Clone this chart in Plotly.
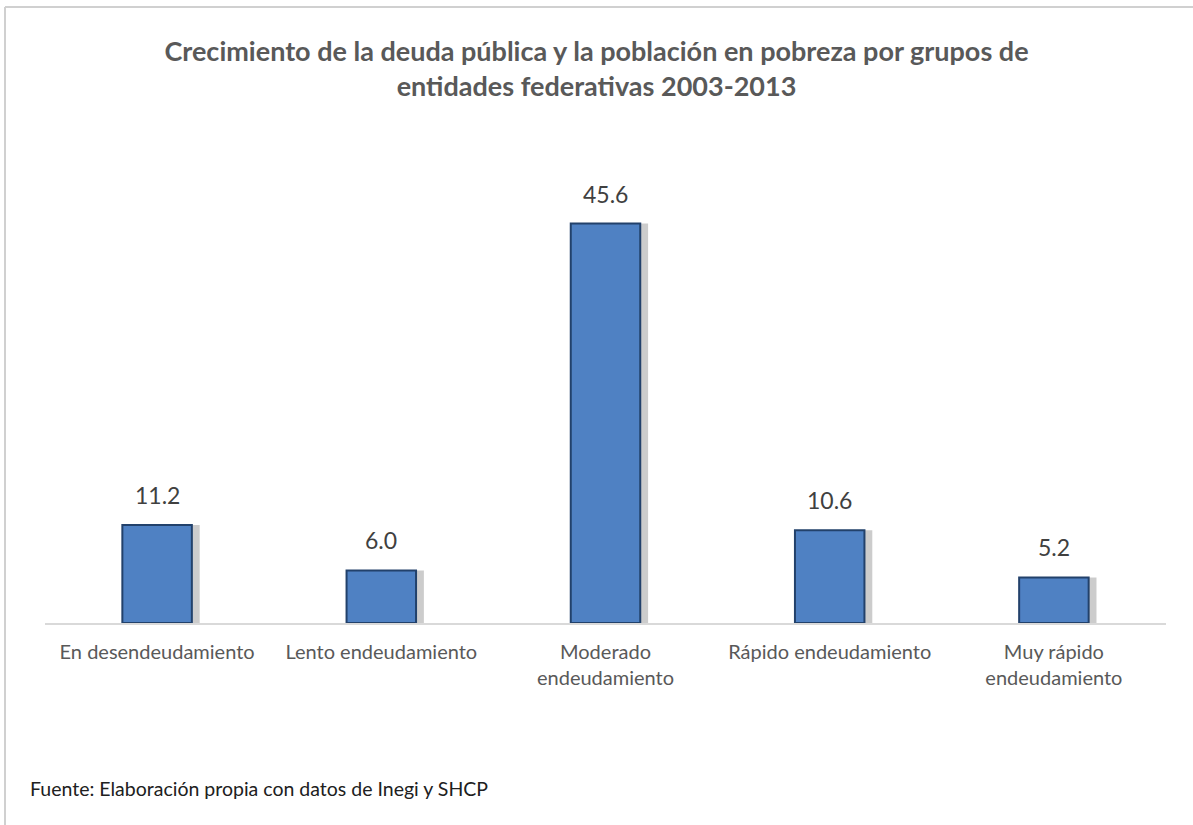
import plotly.graph_objects as go

# Datos: crecimiento por grupo de entidades 2003-2013
grupos = ["En desendeudamiento", "Lento endeudamiento", "Moderado<br>endeudamiento",
          "Rápido endeudamiento", "Muy rápido<br>endeudamiento"]
valores = [11.2, 6.0, 45.6, 10.6, 5.2]
etiquetas = [f"{v:.1f}" for v in valores]

W, H = 1193, 825
left, right, top, bottom = 45, 27, 185, 202
pw, ph = W - left - right, H - top - bottom
bw = 0.31

fig = go.Figure()
# sombra a la derecha de cada barra
fig.add_trace(go.Bar(
    x=grupos, y=valores, width=bw, offset=-bw / 2 + 0.035,
    marker=dict(color="rgba(0,0,0,0.2)", line=dict(width=0)),
    hoverinfo="skip",
))
fig.add_trace(go.Bar(
    x=grupos, y=valores, width=bw, offset=-bw / 2,
    marker=dict(color="#4F81C3", line=dict(color="#22416B", width=2)),
    hoverinfo="skip",
))

# etiquetas de valor sobre las barras
notas = [dict(x=g, y=v, text=t, xref="x", yref="y", yanchor="bottom", yshift=14,
              showarrow=False, font=dict(family="Lato", size=23, color="#404040"))
         for g, v, t in zip(grupos, valores, etiquetas)]
notas.append(dict(
    text="Fuente: Elaboración propia con datos de Inegi y SHCP",
    xref="paper", yref="paper", x=(28 - left) / pw, y=-(788 - (H - bottom)) / ph,
    xanchor="left", yanchor="middle", showarrow=False,
    font=dict(family="Lato", size=19.5, color="#202020"),
))

fig.update_layout(
    width=W, height=H,
    margin=dict(l=left, r=right, t=top, b=bottom),
    paper_bgcolor="white", plot_bgcolor="white",
    showlegend=False,
    barmode="overlay",
    title=dict(
        text="Crecimiento de la deuda pública y la población en pobreza por grupos de<br>entidades federativas 2003-2013",
        x=0.5, xanchor="center", xref="container",
        y=1 - 61 / H, yanchor="top", yref="container",
        font=dict(family="Lato", size=27, color="#595959", weight="bold"),
    ),
    font=dict(family="Lato"),
    xaxis=dict(
        showline=True, linecolor="#D9D9D9", linewidth=1.5,
        showgrid=False, ticks="", ticklabelstandoff=10,
        tickfont=dict(family="Lato", size=20, color="#595959"),
    ),
    yaxis=dict(range=[0, 50], visible=False, showgrid=False),
    annotations=notas,
    shapes=[
        dict(type="line", xref="paper", yref="paper",
             x0=(5 - left) / pw, x1=(W - left) / pw,
             y0=1 + (top - 7) / ph, y1=1 + (top - 7) / ph,
             line=dict(color="#D0D0D0", width=2)),
        dict(type="line", xref="paper", yref="paper",
             x0=(5 - left) / pw, x1=(5 - left) / pw,
             y0=1 + (top - 7) / ph, y1=-bottom / ph,
             line=dict(color="#D0D0D0", width=2)),
    ],
)

fig.write_html("out.html", config={"displayModeBar": False},
               post_script="document.body.style.margin='0';")
